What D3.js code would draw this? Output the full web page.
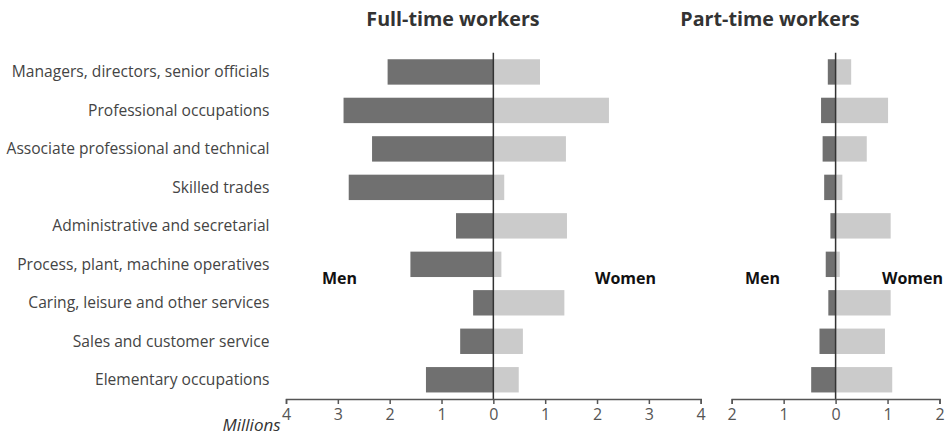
<!DOCTYPE html>
<html><head><meta charset="utf-8">
<script src="https://cdn.jsdelivr.net/npm/d3@7"></script>
<style>body{margin:0;background:#fff}svg{display:block}</style>
</head><body>
<svg id="c" width="947" height="439"></svg>
<script>
const categories = ["Managers, directors, senior officials","Professional occupations","Associate professional and technical","Skilled trades","Administrative and secretarial","Process, plant, machine operatives","Caring, leisure and other services","Sales and customer service","Elementary occupations"];
const fullMen   = [2.04, 2.89, 2.34, 2.79, 0.72, 1.60, 0.39, 0.64, 1.30];
const fullWomen = [0.90, 2.23, 1.40, 0.21, 1.42, 0.155, 1.37, 0.57, 0.49];
const partMen   = [0.15, 0.28, 0.25, 0.22, 0.10, 0.19, 0.14, 0.31, 0.47];
const partWomen = [0.30, 1.01, 0.60, 0.13, 1.06, 0.08, 1.06, 0.95, 1.09];
const fullTicks = [-4,-3,-2,-1,0,1,2,3,4];
const partTicks = [-2,-1,0,1,2];

const svg = d3.select("#c");
const font = "'Open Sans', sans-serif";
const y = d3.scaleBand().domain(categories).range([52.7, 399]).paddingInner(0.34).paddingOuter(0.17);
const axisY = 399;

function panel(x0, x1, dom, men, women, ticks, title, titleX, menX, womenX) {
  const x = d3.scaleLinear().domain(dom).range([x0, x1]);
  const g = svg.append("g");
  g.selectAll("rect.m").data(categories).join("rect")
    .attr("x", (d,i) => x(-men[i])).attr("width", (d,i) => x(0) - x(-men[i]))
    .attr("y", d => y(d)).attr("height", y.bandwidth()).attr("fill", "#707070");
  g.selectAll("rect.w").data(categories).join("rect")
    .attr("x", x(0)).attr("width", (d,i) => x(women[i]) - x(0))
    .attr("y", d => y(d)).attr("height", y.bandwidth()).attr("fill", "#cbcbcb");
  g.append("line").attr("x1", x(0)).attr("x2", x(0)).attr("y1", 52.7).attr("y2", axisY)
    .attr("stroke", "#333").attr("stroke-width", 1.5);
  const ax = g.append("g").attr("transform", `translate(0,${axisY})`)
    .call(d3.axisBottom(x).tickValues(ticks).tickFormat(d => Math.abs(d)).tickSizeOuter(0).tickSize(5).tickPadding(5));
  ax.select(".domain").attr("stroke", "#555").attr("stroke-width", 1.5);
  ax.selectAll(".tick line").attr("stroke", "#555").attr("stroke-width", 1.5);
  ax.selectAll(".tick text").attr("fill", "#555").style("font-family", font).style("font-size", "16px");
  svg.append("text").attr("x", titleX).attr("y", 26).attr("text-anchor", "middle")
    .style("font-family", font).style("font-weight", "bold").style("font-size", "19.7px").attr("fill", "#333").text(title);
  svg.append("text").attr("x", menX).attr("y", 284).attr("text-anchor", "middle")
    .style("font-family", font).style("font-weight", "bold").style("font-size", "16px").attr("fill", "#111").text("Men");
  svg.append("text").attr("x", womenX).attr("y", 284).attr("text-anchor", "middle")
    .style("font-family", font).style("font-weight", "bold").style("font-size", "16px").attr("fill", "#111").text("Women");
  return x;
}

panel(286, 700.7, [-4, 4], fullMen, fullWomen, fullTicks, "Full-time workers", 453, 339.5, 625.5);
panel(731.7, 939.5, [-2, 2], partMen, partWomen, partTicks, "Part-time workers", 770, 762.5, 912.5);

svg.selectAll("text.cat").data(categories).join("text").attr("class","cat")
  .attr("x", 269.5).attr("y", d => y(d) + y.bandwidth()/2).attr("dy", "0.35em")
  .attr("text-anchor", "end").style("font-family", font).style("font-size", "15.6px").attr("fill", "#444")
  .text(d => d);

svg.append("text").attr("x", 222.5).attr("y", 431).style("font-family", font).style("font-style", "italic")
  .style("font-size", "17px").attr("fill", "#333").text("Millions");
</script>
</body></html>
